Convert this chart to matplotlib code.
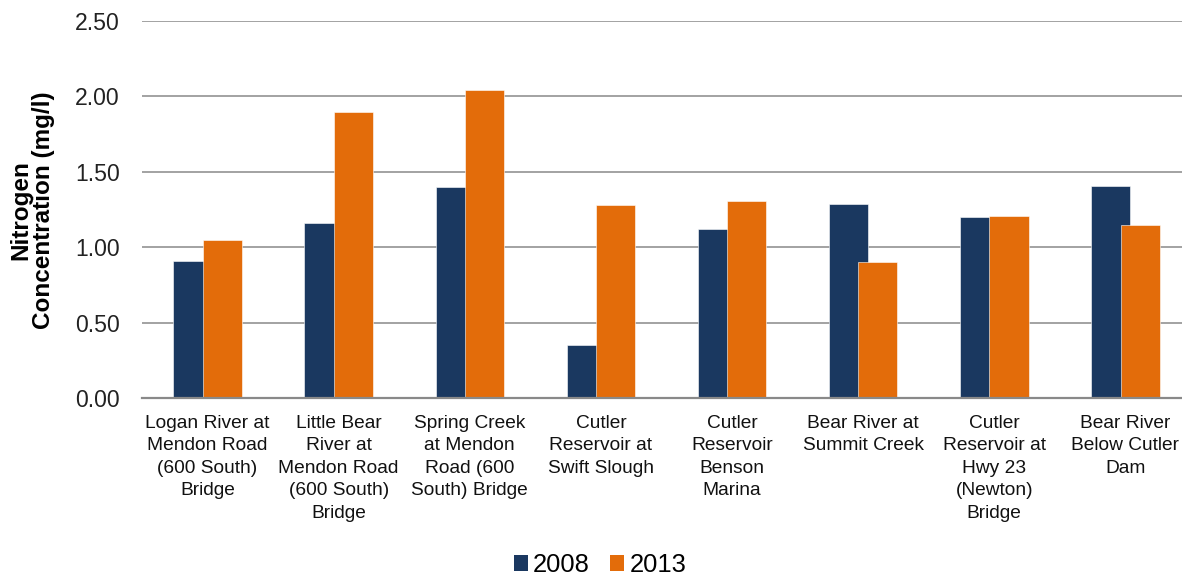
import matplotlib
matplotlib.use("Agg")
import matplotlib.pyplot as plt
import numpy as np
from matplotlib.patches import Patch

plt.rcParams['font.family'] = ['Liberation Sans', 'DejaVu Sans']

categories = [
    "Logan River at\nMendon Road\n(600 South)\nBridge",
    "Little Bear\nRiver at\nMendon Road\n(600 South)\nBridge",
    "Spring Creek\nat Mendon\nRoad (600\nSouth) Bridge",
    "Cutler\nReservoir at\nSwift Slough",
    "Cutler\nReservoir\nBenson\nMarina",
    "Bear River at\nSummit Creek",
    "Cutler\nReservoir at\nHwy 23\n(Newton)\nBridge",
    "Bear River\nBelow Cutler\nDam",
]
values_2008 = [0.91, 1.16, 1.40, 0.35, 1.12, 1.29, 1.20, 1.41]
values_2013 = [1.05, 1.90, 2.04, 1.28, 1.31, 0.90, 1.21, 1.15]
series_names = ["2008", "2013"]
yticks = [0.0, 0.5, 1.0, 1.5, 2.0, 2.5]
ylabel = "Nitrogen\nConcentration (mg/l)"

navy = "#1A3860"
orange = "#E36C0A"
grid_col = "#898989"

W, H = 1182, 575
fig = plt.figure(figsize=(W / 100, H / 100), dpi=100)
ax = fig.add_axes([142 / W, (H - 398.3) / H, 1049 / W, (398.3 - 21) / H])

x = np.arange(len(categories))
bw = 0.2975
off = 0.112
ax.bar(x - off, values_2008, width=bw, color=navy, edgecolor="white", linewidth=0.4, zorder=3)
ax.bar(x + off, values_2013, width=bw, color=orange, edgecolor="white", linewidth=0.4, zorder=4)

ax.set_xlim(-0.5, len(categories) - 0.5)
ax.set_ylim(0, 2.5)
ax.set_yticks(yticks)
ax.set_yticklabels([f"{v:.2f}" for v in yticks], fontsize=16.6, color="#222222")
ax.set_xticks(x)
ax.set_xticklabels(categories, fontsize=13.8, color="#111111", linespacing=1.42, va="top")
ax.tick_params(axis="y", length=0, pad=16)
ax.tick_params(axis="x", length=0, pad=12)

ax.grid(axis="y", color=grid_col, linewidth=1.1, zorder=0)
ax.set_axisbelow(True)
for s in ["top", "right", "left"]:
    ax.spines[s].set_visible(False)
ax.spines["bottom"].set_color(grid_col)
ax.spines["bottom"].set_linewidth(1.6)
ax.spines["bottom"].set_zorder(5)

fig.text(32 / W, (H - 209.7) / H, ylabel, rotation=90, ha="center", va="center",
         multialignment="center", fontsize=17.5, fontweight="bold", linespacing=1.0)

handles = [Patch(facecolor=navy), Patch(facecolor=orange)]
fig.legend(handles, series_names, loc="center", bbox_to_anchor=(600 / W, 1 - 565 / H),
           ncol=2, frameon=False, fontsize=18.4, handlelength=0.55, handleheight=0.55,
           handletextpad=0.2, columnspacing=0.8, borderpad=0, borderaxespad=0)

fig.savefig("out.png", dpi=100)
